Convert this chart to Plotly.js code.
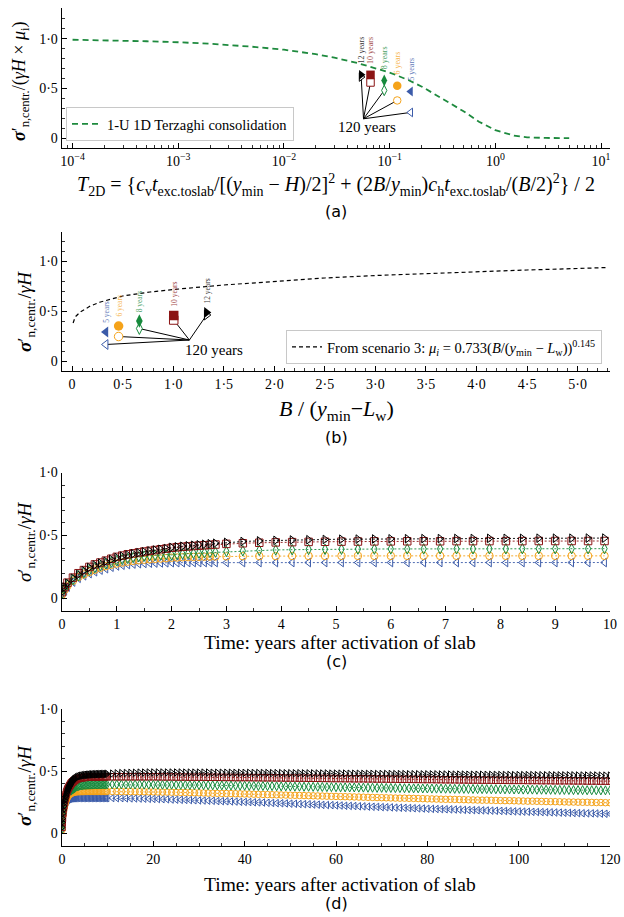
<!DOCTYPE html>
<html><head><meta charset="utf-8">
<script src="https://cdn.plot.ly/plotly-3.0.1.min.js"></script>
<style>html,body{margin:0;padding:0;background:#fff}#plot{width:624px;height:917px}</style>
</head><body><div id="plot"></div>
<script>
const SERIF = "'Liberation Serif', 'Times New Roman', serif";
const SANS = "'DejaVu Sans', sans-serif";

// ---------- shared ----------
const seriesNames = ['5 years', '6 years', '8 years', '10 years', '12 years'];
const colors = ['#3b5ba9', '#f5a31a', '#168a3c', '#8b1414', '#000000'];
const symbols = ['triangle-left', 'circle', 'diamond-tall', 'square', 'triangle-right'];

// ---------- panel (a) ----------
const terzT = [1e-4, 2e-4, 5e-4, 1e-3, 2e-3, 5e-3, 1e-2, 2e-2, 3e-2, 5e-2, 7e-2, 0.1, 0.15, 0.2, 0.3, 0.4, 0.5, 0.7, 1.0, 1.5, 2, 3, 5];
const terzU = [0.99, 0.985, 0.975, 0.965, 0.95, 0.92, 0.89, 0.845, 0.81, 0.755, 0.71, 0.66, 0.585, 0.52, 0.41, 0.33, 0.27, 0.165, 0.08, 0.025, 0.008, 0.001, 0.0];
const aT = [0.158, 0.118, 0.0889, 0.0659, 0.0538];
const aPeak = [0.469, 0.527, 0.58, 0.637, 0.637];
const a120 = [0.258, 0.379, 0.48, 0.56, 0.615];
const aHub = [0.0566, 0.194];
const aHubLabel = [0.061, 0.11];

// ---------- panel (b) ----------
const muX = [0.01, 0.03, 0.08, 0.18, 0.28, 0.5, 0.77, 1.0, 1.5, 2.0, 2.5, 3.0, 3.5, 4.0, 4.5, 5.0, 5.3];
const muY = [0.38, 0.44, 0.49, 0.55, 0.59, 0.65, 0.69, 0.715, 0.76, 0.795, 0.83, 0.855, 0.875, 0.893, 0.91, 0.925, 0.935];
const bX = [0.333, 0.46, 0.665, 1.005, 1.33];
const bPeak = [0.29, 0.35, 0.40, 0.455, 0.485];
const b120 = [0.165, 0.245, 0.325, 0.41, 0.46];
const bHub = [1.16, 0.21];
const bHubLabel = [1.40, 0.11];

// ---------- panel (c): first 10 years ----------
const tC = [0, 0.05, 0.1, 0.2, 0.3, 0.4, 0.5, 0.6, 0.7, 0.8, 0.9, 1.0, 1.1, 1.2, 1.3, 1.4, 1.5, 1.6, 1.7, 1.8, 1.9, 2.0, 2.1, 2.2, 2.3, 2.4, 2.5, 2.6, 2.7, 2.8, 3.0, 3.3, 3.6, 3.9, 4.2, 4.5, 4.8, 5.1, 5.4, 5.7, 6.0, 6.3, 6.6, 6.9, 7.2, 7.5, 7.8, 8.1, 8.4, 8.7, 9.0, 9.3, 9.6, 9.9];
const c5 = [0.03, 0.06, 0.09, 0.13, 0.16, 0.18, 0.197, 0.212, 0.225, 0.236, 0.248, 0.258, 0.264, 0.269, 0.273, 0.276, 0.278, 0.28, 0.281, 0.282, 0.283, 0.284, 0.284, 0.284, 0.285, 0.285, 0.285, 0.285, 0.285, 0.285, 0.285, 0.285, 0.285, 0.285, 0.285, 0.285, 0.285, 0.285, 0.285, 0.285, 0.285, 0.285, 0.285, 0.285, 0.285, 0.285, 0.285, 0.285, 0.285, 0.285, 0.285, 0.285, 0.285, 0.285];
const c6 = [0.03, 0.07, 0.1, 0.14, 0.17, 0.19, 0.21, 0.228, 0.243, 0.256, 0.267, 0.277, 0.285, 0.292, 0.298, 0.303, 0.307, 0.311, 0.314, 0.317, 0.32, 0.323, 0.325, 0.327, 0.328, 0.329, 0.33, 0.331, 0.332, 0.333, 0.334, 0.335, 0.336, 0.336, 0.337, 0.337, 0.337, 0.338, 0.338, 0.338, 0.338, 0.338, 0.338, 0.338, 0.338, 0.338, 0.338, 0.338, 0.338, 0.338, 0.338, 0.338, 0.338, 0.338];
const c8 = [0.04, 0.08, 0.11, 0.15, 0.18, 0.205, 0.225, 0.245, 0.26, 0.275, 0.288, 0.3, 0.31, 0.318, 0.325, 0.331, 0.336, 0.34, 0.343, 0.346, 0.348, 0.345, 0.35, 0.353, 0.356, 0.358, 0.36, 0.362, 0.365, 0.368, 0.373, 0.378, 0.382, 0.385, 0.387, 0.389, 0.39, 0.391, 0.392, 0.392, 0.393, 0.393, 0.393, 0.394, 0.394, 0.394, 0.394, 0.394, 0.395, 0.395, 0.395, 0.395, 0.395, 0.395];
const c10 = [0.05, 0.09, 0.125, 0.165, 0.2, 0.225, 0.25, 0.27, 0.285, 0.3, 0.315, 0.33, 0.34, 0.35, 0.358, 0.365, 0.372, 0.378, 0.384, 0.39, 0.395, 0.402, 0.406, 0.41, 0.413, 0.416, 0.419, 0.422, 0.425, 0.428, 0.433, 0.438, 0.442, 0.445, 0.447, 0.449, 0.45, 0.451, 0.452, 0.453, 0.453, 0.454, 0.454, 0.454, 0.455, 0.455, 0.455, 0.455, 0.455, 0.456, 0.456, 0.456, 0.456, 0.456];
const c12 = [0.05, 0.09, 0.12, 0.16, 0.19, 0.22, 0.245, 0.265, 0.28, 0.295, 0.31, 0.325, 0.335, 0.345, 0.355, 0.362, 0.37, 0.377, 0.384, 0.39, 0.396, 0.405, 0.41, 0.414, 0.418, 0.422, 0.426, 0.43, 0.434, 0.438, 0.445, 0.452, 0.457, 0.461, 0.464, 0.466, 0.468, 0.47, 0.471, 0.472, 0.473, 0.474, 0.475, 0.475, 0.476, 0.476, 0.477, 0.477, 0.477, 0.478, 0.478, 0.478, 0.479, 0.479];

// ---------- panel (d): years 11 to 120 (continues panel c) ----------
const tL = [11,12,13,14,15,16,17,18,19,20,21,22,23,24,25,26,27,28,29,30,31,32,33,34,35,36,37,38,39,40,41,42,43,44,45,46,47,48,49,50,51,52,53,54,55,56,57,58,59,60,61,62,63,64,65,66,67,68,69,70,71,72,73,74,75,76,77,78,79,80,81,82,83,84,85,86,87,88,89,90,91,92,93,94,95,96,97,98,99,100,101,102,103,104,105,106,107,108,109,110,111,112,113,114,115,116,117,118,119,120];
const l5 = [.285,.284,.284,.283,.282,.282,.281,.280,.279,.278, .277,.276,.275,.273,.272,.271,.270,.269,.267,.266, .265,.264,.263,.261,.260,.259,.258,.257,.255,.254, .253,.251,.250,.249,.247,.246,.244,.243,.242,.240, .239,.237,.236,.235,.233,.232,.230,.229,.228,.226, .225,.223,.222,.221,.219,.218,.216,.215,.214,.212, .211,.210,.208,.207,.206,.205,.203,.202,.201,.199, .198,.197,.196,.195,.194,.193,.192,.190,.189,.188, .187,.186,.185,.184,.183,.182,.181,.179,.178,.177, .176,.175,.174,.173,.172,.171,.170,.169,.168,.167, .166,.165,.164,.163,.162,.162,.161,.160,.159,.158];
const l6 = [.338,.338,.337,.337,.337,.336,.336,.336,.335,.335, .334,.333,.333,.332,.331,.330,.330,.329,.328,.327, .326,.325,.324,.323,.322,.322,.321,.320,.319,.318, .317,.316,.315,.314,.313,.312,.311,.310,.309,.308, .307,.306,.305,.304,.303,.302,.301,.300,.299,.298, .297,.296,.295,.294,.293,.292,.291,.290,.289,.288, .287,.286,.285,.284,.284,.283,.282,.281,.280,.279, .278,.277,.276,.275,.275,.274,.273,.272,.271,.270, .269,.268,.268,.267,.266,.265,.264,.264,.263,.262, .261,.260,.260,.259,.258,.257,.256,.256,.255,.254, .253,.253,.252,.251,.251,.250,.249,.249,.248,.247];
const l8 = [.395,.395,.395,.394,.394,.394,.394,.393,.393,.393, .393,.392,.392,.392,.391,.391,.390,.390,.389,.389, .389,.388,.388,.387,.387,.386,.386,.385,.385,.384, .383,.383,.382,.382,.381,.381,.380,.379,.379,.378, .377,.377,.376,.376,.375,.375,.374,.373,.373,.372, .371,.371,.370,.370,.369,.369,.368,.368,.367,.367, .366,.366,.365,.365,.364,.364,.363,.363,.362,.362, .361,.361,.361,.360,.360,.359,.359,.359,.358,.358, .357,.357,.357,.356,.356,.355,.355,.355,.354,.354, .353,.353,.353,.352,.352,.352,.351,.351,.350,.350, .350,.349,.349,.349,.348,.348,.348,.347,.347,.347];
const l10 = [.456,.456,.456,.456,.456,.456,.456,.456,.456,.456, .456,.455,.455,.455,.454,.454,.454,.453,.453,.453, .453,.452,.452,.452,.451,.451,.451,.450,.450,.450, .450,.449,.449,.448,.448,.448,.447,.447,.446,.446, .446,.445,.445,.444,.444,.444,.443,.443,.442,.442, .442,.441,.441,.440,.440,.440,.439,.439,.438,.438, .438,.437,.437,.436,.436,.436,.435,.435,.434,.434, .434,.433,.433,.432,.432,.432,.431,.431,.430,.430, .430,.429,.429,.429,.428,.428,.428,.427,.427,.427, .427,.426,.426,.426,.425,.425,.425,.424,.424,.424, .424,.423,.423,.423,.422,.422,.422,.421,.421,.421];
const l12 = [.481,.483,.485,.486,.487,.488,.489,.489,.490,.490, .490,.490,.490,.490,.490,.490,.489,.489,.489,.489, .489,.489,.488,.488,.488,.488,.488,.487,.487,.487, .487,.486,.486,.486,.486,.485,.485,.485,.484,.484, .484,.484,.483,.483,.483,.482,.482,.482,.481,.481, .481,.481,.480,.480,.480,.479,.479,.479,.478,.478, .478,.478,.477,.477,.477,.476,.476,.476,.475,.475, .475,.475,.474,.474,.474,.473,.473,.473,.472,.472, .472,.472,.471,.471,.471,.470,.470,.470,.469,.469, .469,.469,.469,.468,.468,.468,.468,.467,.467,.467, .467,.467,.466,.466,.466,.466,.466,.465,.465,.465];

const cSeries = [c5, c6, c8, c10, c12];
const lSeries = [l5, l6, l8, l10, l12];

// ---------- ticks ----------
const aTickVals = [1e-4, 1e-3, 1e-2, 1e-1, 1e0, 1e1];
const aTickText = ['10<sup>−4</sup>', '10<sup>−3</sup>', '10<sup>−2</sup>', '10<sup>−1</sup>', '10<sup>0</sup>', '10<sup>1</sup>'];
const yTickVals = [0, 0.5, 1.0];
const yTickText = ['0', '0·5', '1·0'];
const bTickVals = [0, 0.5, 1, 1.5, 2, 2.5, 3, 3.5, 4, 4.5, 5];
const bTickText = ['0', '0·5', '1·0', '1·5', '2·0', '2·5', '3·0', '3·5', '4·0', '4·5', '5·0'];
const cTickVals = [0,1,2,3,4,5,6,7,8,9,10];
const dTickVals = [0,20,40,60,80,100,120];

const aMinor = [];
for (let e = -5; e <= 1; e++) for (let m = 2; m <= 9; m++) aMinor.push(m * Math.pow(10, e));

// ---------- traces ----------
const traces = [];
// (a)
traces.push({x: terzT, y: terzU, xaxis: 'x', yaxis: 'y', mode: 'lines', name: '1-U 1D Terzaghi consolidation',
  line: {color: '#1e8a3e', width: 1.8, dash: '6px,4px'}, legend: 'legend', showlegend: true});
function hubLines(hub, xs, ys, xa, ya) {
  const X = [], Y = [];
  for (let i = 0; i < xs.length; i++) { X.push(hub[0], xs[i], null); Y.push(hub[1], ys[i], null); }
  return {x: X, y: Y, xaxis: xa, yaxis: ya, mode: 'lines', line: {color: '#000', width: 1}, showlegend: false, hoverinfo: 'skip'};
}
traces.push(hubLines(aHub, aT, a120, 'x', 'y'));
for (let i = 0; i < 5; i++) {
  traces.push({x: [aT[i]], y: [a120[i]], xaxis: 'x', yaxis: 'y', mode: 'markers', showlegend: false,
    marker: {symbol: symbols[i], size: 7.5, color: '#fff', line: {color: colors[i], width: 1}}});
  traces.push({x: [aT[i]], y: [aPeak[i]], xaxis: 'x', yaxis: 'y', mode: 'markers', showlegend: false,
    marker: {symbol: symbols[i], size: 8.5, color: colors[i], line: {width: 0}}});
}
// (b)
traces.push({x: muX, y: muY, xaxis: 'x2', yaxis: 'y2', mode: 'lines', legend: 'legend2', showlegend: true,
  name: 'From scenario 3: <i>μ<sub>i</sub></i> = 0.733(<i>B</i>/(<i>y</i><sub>min</sub> − <i>L</i><sub>w</sub>))<sup>0.145</sup>',
  line: {color: '#000', width: 1.2, dash: '4px,3px'}});
traces.push(hubLines(bHub, bX, b120, 'x2', 'y2'));
for (let i = 0; i < 5; i++) {
  traces.push({x: [bX[i]], y: [b120[i]], xaxis: 'x2', yaxis: 'y2', mode: 'markers', showlegend: false,
    marker: {symbol: symbols[i], size: 8.5, color: '#fff', line: {color: colors[i], width: 1}}});
  traces.push({x: [bX[i]], y: [bPeak[i]], xaxis: 'x2', yaxis: 'y2', mode: 'markers', showlegend: false,
    marker: {symbol: symbols[i], size: 9.5, color: colors[i], line: {width: 0}}});
}
// (c) & (d)
for (let i = 0; i < 5; i++) {
  traces.push({x: tC, y: cSeries[i], xaxis: 'x3', yaxis: 'y3', mode: 'lines+markers', showlegend: false,
    line: {color: colors[i], width: 0.9, dash: '2px,2px'},
    marker: {symbol: symbols[i] + '-open', size: 7.5, color: colors[i], line: {color: colors[i], width: 1}}});
}
for (let i = 0; i < 5; i++) {
  traces.push({x: tC.concat(tL), y: cSeries[i].concat(lSeries[i]), xaxis: 'x4', yaxis: 'y4', mode: 'lines+markers', showlegend: false,
    line: {color: colors[i], width: 0.9, dash: '2px,2px'},
    marker: {symbol: symbols[i] + '-open', size: 6.5, color: colors[i], line: {color: colors[i], width: 1}}});
}

// ---------- layout ----------
const W = 624, H = 917;
const px = v => v / W, py = v => 1 - v / H;
const tickFont = {family: SERIF, size: 14, color: '#000'};
function axisBase(extra) {
  return Object.assign({showline: true, linecolor: '#000', linewidth: 1.4, ticks: 'inside', ticklen: 5, tickwidth: 1,
    tickcolor: '#000', showgrid: false, zeroline: false, tickfont: tickFont, tickmode: 'array', fixedrange: true}, extra);
}
const xDom = [px(62), px(610)];

const annotations = [];
function paperText(text, x, y, size, family, angle) {
  annotations.push({xref: 'paper', yref: 'paper', x: px(x), y: py(y), text: text, showarrow: false,
    xanchor: 'center', yanchor: 'middle', textangle: angle || 0, font: {family: family, size: size, color: '#000'}});
}
paperText('<i>T</i><sub>2D</sub> = {<i>c</i><sub>v</sub><i>t</i><sub>exc.toslab</sub>/[(<i>y</i><sub>min</sub> − <i>H</i>)/2]<sup>2</sup> + (2<i>B</i>/<i>y</i><sub>min</sub>)<i>c</i><sub>h</sub><i>t</i><sub>exc.toslab</sub>/(<i>B</i>/2)<sup>2</sup>} / 2', 336, 185, 20, SERIF);
paperText('(a)', 336, 211, 16, SANS);
paperText('<i>B</i> / (<i>y</i><sub>min</sub>−<i>L</i><sub>w</sub>)', 336, 410, 22, SERIF);
paperText('(b)', 336, 437, 16, SANS);
paperText('Time: years after activation of slab', 340, 642, 19.5, SERIF);
paperText('(c)', 336, 661, 16, SANS);
paperText('Time: years after activation of slab', 340, 884, 19.5, SERIF);
paperText('(d)', 336, 903, 16, SANS);
paperText('<b><i>σ</i></b>′<sub>n,centr.</sub>/(<i>γH</i> × <i>μ</i><sub>i</sub>)', 21, 81, 18, SERIF, -90);
paperText('<b><i>σ</i></b>′<sub>n,centr.</sub>/<i>γH</i>', 26, 312, 19, SERIF, -90);
paperText('<i>σ</i>′<sub>n,centr.</sub>/<i>γH</i>', 26, 542, 19, SERIF, -90);
paperText('<b><i>σ</i></b>′<sub>n,centr.</sub>/<i>γH</i>', 26, 786, 19, SERIF, -90);

for (let i = 0; i < 5; i++) {
  annotations.push({xref: 'x', yref: 'y', x: Math.log10(aT[i]), y: aPeak[i] + 0.09, text: seriesNames[i], showarrow: false,
    textangle: -90, xanchor: 'center', yanchor: 'bottom', opacity: 0.8, font: {family: SERIF, size: 8, color: colors[i]}});
  annotations.push({xref: 'x2', yref: 'y2', x: bX[i], y: bPeak[i] + 0.07, text: seriesNames[i], showarrow: false,
    textangle: -90, xanchor: 'center', yanchor: 'bottom', opacity: 0.8, font: {family: SERIF, size: 7.5, color: colors[i]}});
}
annotations.push({xref: 'x', yref: 'y', x: Math.log10(aHubLabel[0]), y: aHubLabel[1], text: '120 years', showarrow: false,
  xanchor: 'center', yanchor: 'middle', font: {family: SERIF, size: 15, color: '#000'}});
annotations.push({xref: 'x2', yref: 'y2', x: bHubLabel[0], y: bHubLabel[1], text: '120 years', showarrow: false,
  xanchor: 'center', yanchor: 'middle', font: {family: SERIF, size: 15, color: '#000'}});

const minorY = {tickmode: 'linear', tick0: 0, dtick: 0.1, ticks: 'inside', ticklen: 3, tickwidth: 0.8, tickcolor: '#000'};
const layout = {
  width: W, height: H, margin: {l: 0, r: 0, t: 0, b: 0}, paper_bgcolor: '#fff', plot_bgcolor: 'rgba(0,0,0,0)',
  font: {family: SERIF, color: '#000', size: 14},
  xaxis: axisBase({type: 'log', domain: xDom, anchor: 'y', range: [-4.1, 1.085], tickvals: aTickVals, ticktext: aTickText,
    minor: {tickmode: 'array', tickvals: aMinor, ticks: 'inside', ticklen: 3, tickwidth: 0.8, tickcolor: '#000'}}),
  yaxis: axisBase({domain: [py(148), py(8)], anchor: 'x', range: [-0.1, 1.31], tickvals: yTickVals, ticktext: yTickText, minor: minorY}),
  xaxis2: axisBase({domain: xDom, anchor: 'y2', range: [-0.1, 5.32], tickvals: bTickVals, ticktext: bTickText,
    minor: {tickmode: 'linear', tick0: 0, dtick: 0.1, ticks: 'inside', ticklen: 3, tickwidth: 0.8, tickcolor: '#000'}}),
  yaxis2: axisBase({domain: [py(371), py(232)], anchor: 'x2', range: [-0.1, 1.29], tickvals: yTickVals, ticktext: yTickText, minor: minorY}),
  xaxis3: axisBase({domain: xDom, anchor: 'y3', range: [0, 10], tickvals: cTickVals, ticktext: cTickVals.map(String),
    minor: {tickmode: 'linear', tick0: 0, dtick: 0.5, ticks: 'inside', ticklen: 3, tickwidth: 0.8, tickcolor: '#000'}}),
  yaxis3: axisBase({domain: [py(611), py(472.5)], anchor: 'x3', range: [-0.1, 1.0], tickvals: yTickVals, ticktext: yTickText, minor: minorY}),
  xaxis4: axisBase({domain: xDom, anchor: 'y4', range: [0, 120], tickvals: dTickVals, ticktext: dTickVals.map(String),
    minor: {tickmode: 'linear', tick0: 0, dtick: 5, ticks: 'inside', ticklen: 3, tickwidth: 0.8, tickcolor: '#000'}}),
  yaxis4: axisBase({domain: [py(846), py(709)], anchor: 'x4', range: [-0.1, 1.0], tickvals: yTickVals, ticktext: yTickText, minor: minorY}),
  legend: {x: px(66), y: py(141), xanchor: 'left', yanchor: 'bottom', bgcolor: '#fff', bordercolor: '#c8c8c8', borderwidth: 1,
    font: {family: SERIF, size: 14.5, color: '#000'}, tracegroupgap: 0, itemwidth: 30},
  legend2: {x: px(602), y: py(364), xanchor: 'right', yanchor: 'bottom', bgcolor: '#fff', bordercolor: '#c8c8c8', borderwidth: 1,
    font: {family: SERIF, size: 14.5, color: '#000'}, tracegroupgap: 0, itemwidth: 30},
  annotations: annotations,
  showlegend: true
};

Plotly.newPlot('plot', traces, layout, {staticPlot: true, displayModeBar: false});
</script>
</body></html>
